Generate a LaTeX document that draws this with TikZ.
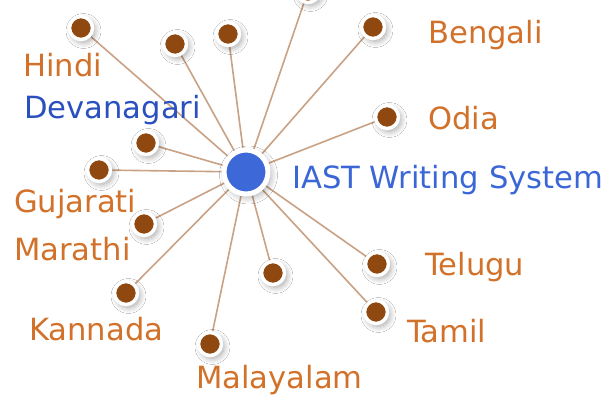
\documentclass[tikz,border=0pt]{standalone}
\usepackage{fontspec}
\setmainfont{DejaVu Sans}
\usetikzlibrary{shadows.blur}
\definecolor{lineC}{HTML}{C9A285}
\definecolor{dotC}{HTML}{8E4810}
\definecolor{orangeT}{HTML}{D2722A}
\definecolor{blueT}{HTML}{3A66D6}
\definecolor{blueD}{HTML}{2A50C0}
\definecolor{hubC}{HTML}{3D68D8}
\tikzset{
  spoke/.style={draw=lineC, line width=1.6pt},
  leaf/.style={circle, fill=dotC, draw=white, line width=3.5pt, minimum size=23pt, inner sep=0pt,
    blur shadow={shadow xshift=2.5pt, shadow yshift=-3pt, shadow blur radius=6pt, shadow blur steps=12, shadow opacity=35}},
  hub/.style={circle, fill=hubC, draw=white, line width=5pt, minimum size=44pt, inner sep=0pt,
    blur shadow={shadow xshift=2.5pt, shadow yshift=-3pt, shadow blur radius=7pt, shadow blur steps=12, shadow opacity=35}},
  lbl/.style={anchor=base west, inner sep=0pt, font=\fontsize{30.6}{36}\selectfont, text=orangeT},
  lblb/.style={lbl, text=blueT},
}
\begin{document}
\begin{tikzpicture}[x=1pt,y=-1pt]
\clip (0,0) rectangle (614,420);
\fill[white] (0,0) rectangle (614,420);
\coordinate (c) at (246,172);
\foreach \n/\x/\y in {1/81/28, 2/175/44, 3/228/34, 4/308/-9, 5/373/27, 6/387/117, 7/146/143, 8/99/170, 9/144/224, 10/126/293, 11/210/344, 12/273/273, 13/377/264, 14/376/312}
  \coordinate (p\n) at (\x,\y);
\foreach \n in {1,...,14} \draw[spoke] (c) -- (p\n);
\foreach \n in {1,...,14} \node[leaf] (n\n) at (p\n) {};
\node[hub] (hub) at (c) {};
\node[lbl] (lHindi) at (23,77) {Hindi};
\node[lbl, text=blueD] (lDeva) at (24,119) {Devanagari};
\node[lbl] (lGuj) at (14,212) {Gujarati};
\node[lbl] (lMar) at (14,260) {Marathi};
\node[lbl] (lKan) at (29,340) {Kannada};
\node[lbl] (lMal) at (196,388) {Malayalam};
\node[lblb] (lIAST) at (292,188) {IAST Writing System};
\node[lbl] (lBen) at (428,44) {Bengali};
\node[lbl] (lOdia) at (428,129) {Odia};
\node[lbl] (lTel) at (425,275) {Telugu};
\node[lbl] (lTam) at (407,342) {Tamil};
\end{tikzpicture}
\end{document}
